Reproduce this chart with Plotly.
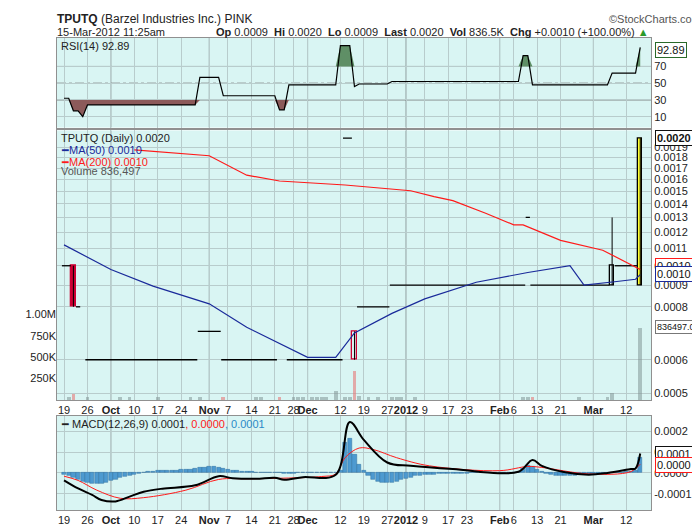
import numpy as np
import pandas as pd
import plotly.graph_objects as go

# trading days shown on the chart
holidays = ["2011-11-24", "2011-12-26", "2012-01-02", "2012-01-16", "2012-02-20"]
dates = [d for d in pd.bdate_range("2011-09-19", "2012-03-15") if d.strftime("%Y-%m-%d") not in holidays]
n = len(dates)
idx = {d.strftime("%Y-%m-%d"): i for i, d in enumerate(dates)}

tick_dates = ["2011-09-19", "2011-09-26", "2011-10-03", "2011-10-10", "2011-10-17", "2011-10-24",
              "2011-11-01", "2011-11-07", "2011-11-14", "2011-11-21", "2011-11-28", "2011-12-01",
              "2011-12-12", "2011-12-19", "2011-12-27", "2012-01-03", "2012-01-09", "2012-01-17",
              "2012-01-23", "2012-02-01", "2012-02-06", "2012-02-13", "2012-02-21", "2012-03-01", "2012-03-12"]
tick_text = ["19", "26", "<b>Oct</b>", "10", "17", "24", "<b>Nov</b>", "7", "14", "21", "28", "<b>Dec</b>",
             "12", "19", "27", "<b>2012</b>", "9", "17", "23", "<b>Feb</b>", "6", "13", "21", "<b>Mar</b>", "12"]
month_dates = ["2011-10-03", "2011-11-01", "2011-12-01", "2012-01-03", "2012-02-01", "2012-03-01"]

# flat (no-range) trading days: runs of (first day idx, last day idx, price)
flat_runs = [(0, 1, 0.0010), (3, 3, 0.0008), (5, 28, 0.0006), (29, 33, 0.0007), (34, 45, 0.0006),
             (48, 59, 0.0006), (60, 61, 0.0020), (63, 69, 0.0008), (70, 98, 0.0009), (99, 99, 0.0013),
             (100, 116, 0.0009), (118, 122, 0.0010)]
# candles with a real range
cand_x = [2, 62, 117, 123]
cand_open = [0.0010, 0.0006, 0.0009, 0.0009]
cand_high = [0.0010, 0.0007, 0.0013, 0.0020]
cand_low = [0.0008, 0.0006, 0.0009, 0.0009]
cand_close = [0.0008, 0.0007, 0.0010, 0.0020]
cand_fill = ["#cc0033", "rgba(0,0,0,0)", "rgba(0,0,0,0)", "#ffff33"]
cand_edge = ["#cc0033", "#cc0033", "#000000", "#000000"]

ma50_x = ["2011-09-19", "2011-10-03", "2011-10-14", "2011-11-01", "2011-11-11", "2011-12-01", "2011-12-09",
          "2011-12-15", "2011-12-28", "2012-01-09", "2012-01-25", "2012-02-09", "2012-02-23", "2012-02-28",
          "2012-03-08", "2012-03-14", "2012-03-15"]
ma50_y = [0.00112, 0.00098, 0.000895, 0.000813, 0.000716, 0.000608, 0.000608, 0.000694, 0.000772,
          0.000835, 0.000914, 0.000964, 0.0010, 0.00090, 0.000918, 0.000929, 0.000953]
ma200_x = ["2011-10-10", "2011-11-01", "2011-11-11", "2011-11-22", "2011-12-13", "2012-01-04", "2012-01-11",
           "2012-01-18", "2012-01-27", "2012-02-06", "2012-02-08", "2012-02-21", "2012-03-05", "2012-03-15"]
ma200_y = [0.001877, 0.001818, 0.001636, 0.001585, 0.001551, 0.001503, 0.001456, 0.001425, 0.00133,
           0.001249, 0.001249, 0.001148, 0.001088, 0.00098]

vol_x = [1, 2, 5, 12, 14, 20, 27, 29, 34, 41, 42, 46, 49, 50, 51, 53, 54, 55, 56, 58, 60, 61, 62, 63, 65,
         67, 70, 71, 72, 75, 98, 99, 100, 110, 116, 117, 123]
vol_y = [25e3, 60e3, 25e3, 25e3, 25e3, 25e3, 25e3, 25e3, 25e3, 25e3, 30e3, 25e3, 25e3, 25e3, 25e3, 25e3,
         25e3, 25e3, 25e3, 100e3, 25e3, 25e3, 330e3, 40e3, 25e3, 25e3, 25e3, 25e3, 25e3, 25e3, 25e3, 25e3,
         25e3, 25e3, 25e3, 75e3, 836497]
vol_down = [2, 34, 46, 62, 100]

rsi_runs = [(0, 1, 32), (2, 3, 17), (4, 4, 10), (5, 28, 24), (29, 33, 57), (34, 45, 35), (46, 47, 18),
            (48, 58, 48), (59, 61, 95), (62, 62, 46), (63, 69, 49), (70, 97, 52), (98, 99, 83),
            (100, 116, 48), (117, 122, 62), (123, 123, 92.89)]

macd_x = [0, 3, 6, 8, 11, 14, 17, 21, 28, 33, 36, 41, 45, 47, 51, 58, 61, 64, 69, 74, 83, 97, 100, 102,
          107, 112, 116, 121, 122, 123]
macd_y = [-0.000035, -0.000074, -0.000105, -0.000129, -0.000136, -0.000113, -0.00009, -0.000075, -0.000059,
          -0.0000155, -0.000025, -0.000028, -0.000023, -0.000033, -0.00002, -0.000009, 0.000243, 0.000158,
          0.00005, 0.000034, 0.0000186, 0.000006, 0.000062, 0.000034, 0.000003, -0.000008, 0.0, 0.0000186,
          0.0000217, 0.000093]
sig_x = [0, 3, 7, 12, 17, 26, 33, 40, 55, 58, 60, 63, 66, 71, 78, 93, 99, 102, 112, 121, 123]
sig_y = [-0.0000155, -0.0000357, -0.0000822, -0.000121, -0.000118, -0.0000822, -0.000031, -0.000028,
         -0.000017, -0.0000047, 0.0000729, 0.000119, 0.000112, 0.0000729, 0.000034, 0.0000109, 0.000031,
         0.0000264, -0.0000047, 0.0000062, 0.0000419]
hist_e6 = [-8, -12, -20, -30,
           -40, -48, -52, -52, -50, -45, -38, -30, -24,
           -18, -12, -6, -2, 2, 5, 7, 9,
           10, 11, 12, 13, 14, 15, 17, 20, 24, 27,
           30, 30, 27, 22, 16,
           12, 10, 8, 6, 5, 4, 3, 2, 2, 1,
           0, -2, -3, -2, 0, 2, 3, 3, 4, 4, 3, 3, 2,
           10, 143, 166, 88, 42, 10,
           -15, -30, -40, -45, -47, -45, -40, -33, -27, -20, -15,
           -12, -10, -8, -6, -5, -4, -3, -2, -2, -1, -1, 0, 0, 0, 0, 1, 1, 1, 0, 0, 0, 0,
           20, 37, 30, 15,
           5, -2, -8, -12, -14, -14, -14, -12, -10, -8, -6, -4,
           -3, -2, -1, 0, 2, 4, 5, 6,
           10, 73]

# ---- build daily series from the runs
flat_x, flat_p = [], []
for a, b, p in flat_runs:
    flat_x += [a - 0.45, b + 0.45, None]
    flat_p += [p, p, None]
rsi = [0.0] * n
for a, b, v in rsi_runs:
    for i in range(a, b + 1):
        rsi[i] = v
hist = [v * 1e-6 for v in hist_e6[:n]]

T, B = 30, 15
H = 530 - T - B
def py(p):
    return 1 - (p - T) / H

BG = "#d9f5f3"
GRID = "#b8cccc"
FONT = "Liberation Sans"
xr = [-1.5, 125.3]
tickpos = [idx[d] for d in tick_dates]

fig = go.Figure()

# RSI panel
rsi_lo = [min(v, 30) for v in rsi]
rsi_hi = [max(v, 70) for v in rsi]
fig.add_trace(go.Scatter(x=list(range(n)), y=[30] * n, xaxis="x", yaxis="y", mode="lines",
                         line=dict(width=0), hoverinfo="skip"))
fig.add_trace(go.Scatter(x=list(range(n)), y=rsi_lo, xaxis="x", yaxis="y", mode="lines", fill="tonexty",
                         fillcolor="#8c5a5a", line=dict(width=0), hoverinfo="skip"))
fig.add_trace(go.Scatter(x=list(range(n)), y=[70] * n, xaxis="x", yaxis="y", mode="lines",
                         line=dict(width=0), hoverinfo="skip"))
fig.add_trace(go.Scatter(x=list(range(n)), y=rsi_hi, xaxis="x", yaxis="y", mode="lines", fill="tonexty",
                         fillcolor="#5f8f66", line=dict(width=0), hoverinfo="skip"))
fig.add_trace(go.Scatter(x=list(range(n)), y=rsi, xaxis="x", yaxis="y", mode="lines",
                         line=dict(color="black", width=1.2)))

# volume (behind price)
vcol = ["rgba(230,120,120,0.6)" if i in vol_down else "rgba(130,150,150,0.55)" for i in vol_x]
fig.add_trace(go.Bar(x=vol_x, y=vol_y, xaxis="x2", yaxis="y3", marker=dict(color=vcol, line=dict(width=0)),
                     width=0.8))

# flat days
fig.add_trace(go.Scatter(x=flat_x, y=flat_p, xaxis="x2", yaxis="y2", mode="lines",
                         line=dict(color="black", width=1.3)))
# wicks and bodies of ranged candles
wx, wy = [], []
for x, h, l in zip(cand_x, cand_high, cand_low):
    wx += [x, x, None]
    wy += [l, h, None]
fig.add_trace(go.Scatter(x=wx, y=wy, xaxis="x2", yaxis="y2", mode="lines", line=dict(color="black", width=1)))
fig.add_trace(go.Bar(x=cand_x, base=[min(o, c) for o, c in zip(cand_open, cand_close)],
                     y=[abs(c - o) for o, c in zip(cand_open, cand_close)], xaxis="x2", yaxis="y2", width=0.9,
                     marker=dict(color=cand_fill, line=dict(color=cand_edge, width=1.3))))

fig.add_trace(go.Scatter(x=[idx[d] for d in ma200_x], y=ma200_y, xaxis="x2", yaxis="y2", mode="lines",
                         line=dict(color="#ff1a1a", width=1.2)))
fig.add_trace(go.Scatter(x=[idx[d] for d in ma50_x], y=ma50_y, xaxis="x2", yaxis="y2", mode="lines",
                         line=dict(color="#1a2a9a", width=1.2)))

# MACD panel
fig.add_trace(go.Bar(x=list(range(n)), y=hist, xaxis="x3", yaxis="y4", width=0.9,
                     marker=dict(color="#4d9ad0", line=dict(color="#2e6f9e", width=0.5))))
fig.add_trace(go.Scatter(x=sig_x, y=sig_y, xaxis="x3", yaxis="y4", mode="lines",
                         line=dict(color="#ff1a1a", width=1), line_shape="spline"))
fig.add_trace(go.Scatter(x=macd_x, y=macd_y, xaxis="x3", yaxis="y4", mode="lines",
                         line=dict(color="black", width=2), line_shape="spline"))

xcommon = dict(range=xr, showgrid=True, gridcolor=GRID, gridwidth=1, tickvals=tickpos, ticktext=tick_text,
               zeroline=False, showline=True, linecolor="#909090", mirror=True, ticks="", tickangle=0,
               tickfont=dict(size=11, color="#222"), fixedrange=True)
ycommon = dict(side="right", showgrid=True, gridcolor=GRID, zeroline=False, showline=True, linecolor="#909090",
               mirror=True, ticks="", tickfont=dict(size=11, color="#222"))

price_ticks = [0.0005, 0.0006, 0.0008, 0.0009, 0.0010, 0.0011, 0.0012, 0.0013, 0.0014, 0.0015,
               0.0016, 0.0017, 0.0018, 0.0019]

fig.update_layout(
    width=700, height=530, margin=dict(l=49, r=57, t=T, b=B),
    paper_bgcolor="white", plot_bgcolor=BG, showlegend=False, bargap=0,
    font=dict(family=FONT, size=11, color="#222"),
    xaxis=dict(xcommon, domain=[0, 1], anchor="y", showticklabels=False),
    yaxis=dict(ycommon, domain=[py(122), 1], range=[-3, 104], tickvals=[10, 30, 50, 70], anchor="x"),
    xaxis2=dict(xcommon, domain=[0, 1], anchor="y2"),
    yaxis2=dict(ycommon, domain=[py(402), py(125)], type="log", range=[np.log10(0.000482), np.log10(0.002086)],
                tickvals=price_ticks, ticktext=[f"{v:.4f}" for v in price_ticks], anchor="x2"),
    yaxis3=dict(overlaying="y2", side="left", range=[0, 3.15e6], showgrid=False, zeroline=False,
                tickvals=[250e3, 500e3, 750e3, 1e6], ticktext=["250K", "500K", "750K", "1.00M"],
                ticks="", tickfont=dict(size=11, color="#222"), anchor="x2"),
    xaxis3=dict(xcommon, domain=[0, 1], anchor="y4"),
    yaxis4=dict(ycommon, domain=[0, py(418)], range=[-0.000177, 0.000274],
                tickvals=[-0.0001, 0.0, 0.0001, 0.0002], ticktext=["-0.0001", "0.0000", "0.0001", "0.0002"],
                anchor="x3"),
)

# rsi reference lines and month lines
shapes = []
for v, dash in [(70, "solid"), (30, "solid"), (50, "dashdot")]:
    shapes.append(dict(type="line", xref="x", yref="y", x0=xr[0], x1=xr[1], y0=v, y1=v,
                       line=dict(color="#707070", width=1, dash=dash), layer="below"))
for d in month_dates:
    for xa, yd in [("x", "y domain"), ("x2", "y2 domain"), ("x3", "y4 domain")]:
        shapes.append(dict(type="line", xref=xa, yref=yd, x0=idx[d], x1=idx[d], y0=0, y1=1,
                           line=dict(color="#8a9a9a", width=1), layer="below"))
fig.update_layout(shapes=shapes)

ann = []
def text(x, y, s, size=11, color="#222", xanchor="left", **kw):
    ann.append(dict(xref="paper", yref="paper", x=x, y=y, text=s, showarrow=False, xanchor=xanchor,
                    yanchor="middle", font=dict(size=size, color=color, family=FONT), **kw))

text(-0.003, py(10), "<b>TPUTQ</b> (Barzel Industries Inc.) PINK", size=12)
text(-0.003, py(24), "15-Mar-2012 11:25am", size=11)
text(1.0, py(24), "<b>Op</b> 0.0009  <b>Hi</b> 0.0020  <b>Lo</b> 0.0009  <b>Last</b> 0.0020  <b>Vol</b> 836.5K  "
     "<b>Chg</b> +0.0010 (+100.00%) <span style='color:#2a9a2a'>▲</span>", xanchor="right")
text(1.0875, py(10), "©StockCharts.com", size=11, color="#555", xanchor="right")
text(0.003, py(38), "RSI(14) 92.89")
text(0.003, py(133), "TPUTQ (Daily) 0.0020")
text(0.003, py(145), "<span style='color:#1a2a9a'>━MA(50) 0.0010</span>")
text(0.003, py(157), "<span style='color:#ff1a1a'>━MA(200) 0.0010</span>")
text(0.003, py(167), "Volume 836,497", color="#555")
text(0.003, py(427), "━ MACD(12,26,9) 0.0001<span style='color:#ff1a1a'>, 0.0000</span>"
     "<span style='color:#2a8ac8'>, 0.0001</span>")

def box(y, s, border, bold=False, size=11):
    ann.append(dict(xref="paper", yref="paper", x=1.006, y=py(y), text=f"<b>{s}</b>" if bold else s,
                    showarrow=False, xanchor="left", yanchor="middle", bgcolor="white", bordercolor=border,
                    borderwidth=1, borderpad=1, font=dict(size=size, color="#111", family=FONT)))

box(42, "92.89", "#2a6a2a")
box(133, "0.0020", "#111", bold=True)
box(264, "0.0010", "#ff1a1a")
box(272, "0.0010", "#1a2a9a")
box(327, "836497.00", "#777", size=9)
box(457, "0.0001", "#111")
box(469, "0.0000", "#ff1a1a")
fig.update_layout(annotations=ann)

fig.write_html("out.html")
